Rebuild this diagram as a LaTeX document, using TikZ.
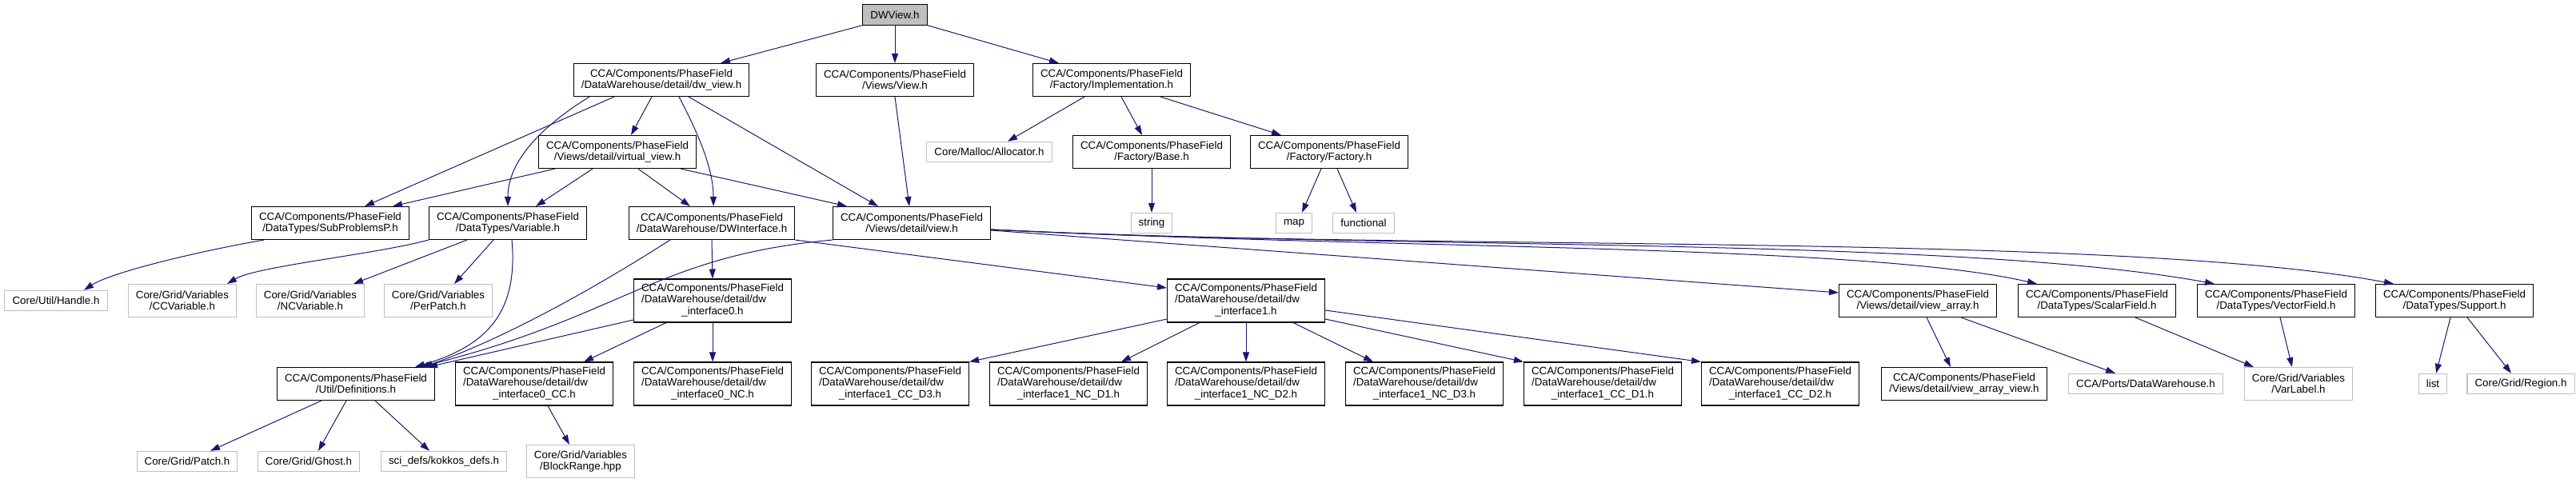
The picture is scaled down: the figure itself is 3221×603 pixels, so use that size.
\documentclass[tikz,border=0pt]{standalone}
\usepackage{fontspec}
\setmainfont{Liberation Sans}
\usepackage{tikz}
\usepackage{xcolor}
\usetikzlibrary{arrows.meta,calc}
\definecolor{edgeblue}{HTML}{191970}
\definecolor{leafgray}{HTML}{BFBFBF}
\newcommand{\dwfile}[1]{\begin{tabular}{@{}l@{}}CCA/Components/PhaseField\\/DataWarehouse/detail/dw\\\multicolumn{1}{@{}c@{}}{#1}\end{tabular}}

\begin{document}
\begin{tikzpicture}[x=0.75pt, y=0.75pt,
    filebox/.style={draw=black, line width=0.8pt, fill=white, align=center,
        inner xsep=7.2pt, inner ysep=2pt, font=\fontsize{10}{10.75}\selectfont},
    leafbox/.style={filebox, draw=leafgray},
    rootbox/.style={filebox, fill=leafgray},
    one/.style={minimum height=19pt},
    two/.style={minimum height=30.75pt},
    three/.style={minimum height=40.5pt},
    dep/.style={draw=edgeblue, line width=0.75pt, -{Triangle[length=9pt,width=6pt]}}]
\useasboundingbox (0,0) rectangle (3221,-603);

% Root
\node[rootbox, one] (dwview) at (1119,-18.5) {DWView.h};

% Level 1
\node[filebox, two] (dwv) at (827,-100) {CCA/Components/PhaseField\\/DataWarehouse/detail/dw\_view.h};
\node[filebox, two] (viewh) at (1119,-100) {CCA/Components/PhaseField\\/Views/View.h};
\node[filebox, two] (impl) at (1390,-100) {CCA/Components/PhaseField\\/Factory/Implementation.h};

% Level 2
\node[filebox, two] (virt) at (772,-190) {CCA/Components/PhaseField\\/Views/detail/virtual\_view.h};
\node[leafbox, one] (alloc) at (1237,-190) {Core/Malloc/Allocator.h};
\node[filebox, two] (base) at (1440,-190) {CCA/Components/PhaseField\\/Factory/Base.h};
\node[filebox, two] (fact) at (1662,-190) {CCA/Components/PhaseField\\/Factory/Factory.h};

% Level 3
\node[filebox, two] (subp) at (413,-279) {CCA/Components/PhaseField\\/DataTypes/SubProblemsP.h};
\node[filebox, two] (var) at (635,-279) {CCA/Components/PhaseField\\/DataTypes/Variable.h};
\node[filebox, two] (dwi) at (890,-279) {CCA/Components/PhaseField\\/DataWarehouse/DWInterface.h};
\node[filebox, two] (view) at (1140,-279) {CCA/Components/PhaseField\\/Views/detail/view.h};
\node[leafbox, one] (str) at (1440,-279) {string};
\node[leafbox, one] (map) at (1618,-279) {map};
\node[leafbox, one] (func) at (1705,-279) {functional};

% Level 4
\node[leafbox, one] (handle) at (70,-376) {Core/Util/Handle.h};
\node[leafbox, two] (ccv) at (228,-376) {Core/Grid/Variables\\/CCVariable.h};
\node[leafbox, two] (ncv) at (388,-376) {Core/Grid/Variables\\/NCVariable.h};
\node[leafbox, two] (perp) at (548,-376) {Core/Grid/Variables\\/PerPatch.h};
\node[filebox, three] (dwi0) at (891,-376) {\dwfile{\_interface0.h}};
\node[filebox, three] (dwi1) at (1558,-376) {\dwfile{\_interface1.h}};
\node[filebox, two] (varr) at (2398,-376) {CCA/Components/PhaseField\\/Views/detail/view\_array.h};
\node[filebox, two] (scal) at (2622,-376) {CCA/Components/PhaseField\\/DataTypes/ScalarField.h};
\node[filebox, two] (vecf) at (2846,-376) {CCA/Components/PhaseField\\/DataTypes/VectorField.h};
\node[filebox, two] (supp) at (3069,-376) {CCA/Components/PhaseField\\/DataTypes/Support.h};

% Level 5
\node[filebox, two] (defs) at (445,-480) {CCA/Components/PhaseField\\/Util/Definitions.h};
\node[filebox, three] (i0cc) at (668,-480) {\dwfile{\_interface0\_CC.h}};
\node[filebox, three] (i0nc) at (891,-480) {\dwfile{\_interface0\_NC.h}};
\node[filebox, three] (c3) at (1113,-480) {\dwfile{\_interface1\_CC\_D3.h}};
\node[filebox, three] (n1) at (1336,-480) {\dwfile{\_interface1\_NC\_D1.h}};
\node[filebox, three] (n2) at (1558,-480) {\dwfile{\_interface1\_NC\_D2.h}};
\node[filebox, three] (n3) at (1781,-480) {\dwfile{\_interface1\_NC\_D3.h}};
\node[filebox, three] (c1) at (2004,-480) {\dwfile{\_interface1\_CC\_D1.h}};
\node[filebox, three] (c2) at (2226,-480) {\dwfile{\_interface1\_CC\_D2.h}};
\node[filebox, two] (vav) at (2456,-480) {CCA/Components/PhaseField\\/Views/detail/view\_array\_view.h};
\node[leafbox, one] (pdw) at (2683,-480) {CCA/Ports/DataWarehouse.h};
\node[leafbox, two] (varl) at (2874,-480) {Core/Grid/Variables\\/VarLabel.h};
\node[leafbox, one] (list) at (3042,-480) {list};
\node[leafbox, one] (region) at (3152,-480) {Core/Grid/Region.h};

% Level 6
\node[leafbox, one] (patch) at (234,-577) {Core/Grid/Patch.h};
\node[leafbox, one] (ghost) at (386,-577) {Core/Grid/Ghost.h};
\node[leafbox, one] (kokkos) at (555,-577) {sci\_defs/kokkos\_defs.h};
\node[leafbox, two] (block) at (726,-577) {Core/Grid/Variables\\/BlockRange.hpp};

% Includes of DWView.h
\draw[dep] (dwview.south west) -- ($(dwv.north)+(74,0)$);
\draw[dep] (dwview.south) -- (viewh.north);
\draw[dep] (dwview.south east) -- ($(impl.north)+(-66,0)$);

% dw_view.h
\draw[dep] ($(dwv.south)+(-59,0)$) -- ($(subp.north)+(43,0)$);
\draw[dep] ($(dwv.south)+(-90,0)$) .. controls (690,-150) and (635,-195) .. (var.north);
\draw[dep] ($(dwv.south)+(-12,0)$) -- ($(virt.north)+(17,0)$);
\draw[dep] ($(dwv.south)+(22,0)$) .. controls (872,-165) and (892,-210) .. ($(dwi.north)+(2,0)$);
\draw[dep] ($(dwv.south)+(34,0)$) -- ($(view.north)+(-42,0)$);
\draw[dep] (viewh.south) -- ($(view.north)+(-3,0)$);

% Implementation.h
\draw[dep] ($(impl.south)+(-34,0)$) -- ($(alloc.north)+(23,0)$);
\draw[dep] ($(impl.south)+(12,0)$) -- ($(base.north)+(-12,0)$);
\draw[dep] ($(impl.south)+(61,0)$) -- ($(fact.north)+(-60,0)$);
\draw[dep] (base.south) -- (str.north);
\draw[dep] ($(fact.south)+(-10,0)$) -- ($(map.north)+(10,0)$);
\draw[dep] ($(fact.south)+(10,0)$) -- ($(func.north)+(-9,0)$);

% virtual_view.h
\draw[dep] ($(virt.south)+(-78,0)$) -- ($(subp.north)+(78,0)$);
\draw[dep] ($(virt.south)+(-31,0)$) -- ($(var.north)+(35,0)$);
\draw[dep] ($(virt.south)+(26,0)$) -- ($(dwi.north)+(-27,0)$);
\draw[dep] ($(virt.south)+(79,0)$) -- ($(view.north)+(-81,0)$);

% SubProblemsP.h, Variable.h
\draw[dep] ($(subp.south)+(-83,0)$) .. controls (250,-314) and (140,-340) .. ($(handle.north)+(35,0)$);
\draw[dep] (var.south west) .. controls (470,-318) and (320,-333) .. ($(ccv.north)+(56,0)$);
\draw[dep] ($(var.south)+(-51,0)$) -- ($(ncv.north)+(54,0)$);
\draw[dep] ($(var.south)+(-18,0)$) -- ($(perp.north)+(20,0)$);
\draw[dep] ($(var.south)+(5,0)$) .. controls (648,-390) and (610,-432) .. ($(defs.north)+(74,0)$);

% DWInterface.h
\draw[dep] ($(dwi.south)+(-52,0)$) .. controls (760,-350) and (640,-420) .. ($(defs.north)+(84,0)$);
\draw[dep] (dwi.south) -- (dwi0.north);
\draw[dep] (dwi.south east) -- ($(dwi1.west)+(0,16)$);

% view.h
\draw[dep] (view.south west) .. controls (820,-320) and (780,-395) .. ($(defs.north)+(80,0)$);
\draw[dep] ($(view.east)+(0,-9)$) -- ($(varr.west)+(0,10)$);
\draw[dep] ($(view.east)+(0,-8)$) .. controls (1750,-312) and (2330,-305) .. ($(scal.north)+(-75,0)$);
\draw[dep] ($(view.east)+(0,-8)$) .. controls (1750,-312) and (2450,-296) .. ($(vecf.north)+(-77,0)$);
\draw[dep] ($(view.east)+(0,-8)$) .. controls (1750,-314) and (2650,-290) .. ($(supp.north)+(-76,0)$);

% dw_interface0.h
\draw[dep] ($(dwi0.west)+(0,-24)$) -- ($(defs.north)+(90,0)$);
\draw[dep] ($(dwi0.south)+(-58,0)$) -- ($(i0cc.north)+(62,0)$);
\draw[dep] (dwi0.south) -- (i0nc.north);
\draw[dep] ($(i0cc.south)+(17,0)$) -- ($(block.north)+(-14,0)$);

% Definitions.h
\draw[dep] ($(defs.south)+(-43,0)$) -- ($(patch.north)+(29,0)$);
\draw[dep] ($(defs.south)+(-12,0)$) -- ($(ghost.north)+(12,0)$);
\draw[dep] ($(defs.south)+(24,0)$) -- ($(kokkos.north)+(-18,0)$);

% dw_interface1.h
\draw[dep] ($(dwi1.west)+(0,-23)$) -- (c3.north east);
\draw[dep] ($(dwi1.south)+(-58,0)$) -- ($(n1.north)+(66,0)$);
\draw[dep] (dwi1.south) -- (n2.north);
\draw[dep] ($(dwi1.south)+(59,0)$) -- ($(n3.north)+(-64,0)$);
\draw[dep] ($(dwi1.east)+(0,-23)$) -- (c1.north west);
\draw[dep] ($(dwi1.east)+(0,-12)$) -- (c2.north west);

% view_array.h and data types
\draw[dep] ($(varr.south)+(11,0)$) -- ($(vav.north)+(-17,0)$);
\draw[dep] ($(varr.south)+(54,0)$) -- ($(pdw.north)+(-38,0)$);
\draw[dep] ($(scal.south)+(48,0)$) -- ($(varl.north)+(-56,0)$);
\draw[dep] ($(vecf.south)+(5,0)$) -- ($(varl.north)+(-8,0)$);
\draw[dep] ($(supp.south)+(-5,0)$) -- ($(list.north)+(4,0)$);
\draw[dep] ($(supp.south)+(16,0)$) -- ($(region.north)+(-12,0)$);
\end{tikzpicture}
\end{document}
